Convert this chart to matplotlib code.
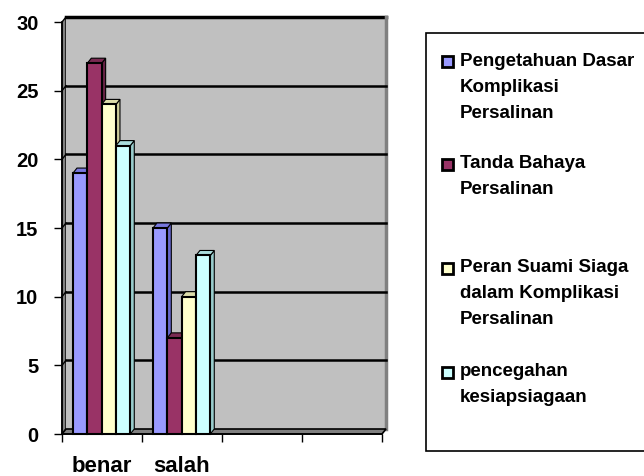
import matplotlib.pyplot as plt
from matplotlib.patches import Polygon, Rectangle
import numpy as np

plt.rcParams['font.family'] = ['Liberation Sans', 'DejaVu Sans']
plt.rcParams['font.weight'] = 'bold'

# data
categories = ["benar", "salah", "", ""]
series_names = [
    "Pengetahuan Dasar\nKomplikasi\nPersalinan",
    "Tanda Bahaya\nPersalinan",
    "Peran Suami Siaga\ndalam Komplikasi\nPersalinan",
    "pencegahan\nkesiapsiagaan",
]
pengetahuan = [19, 15]
tanda_bahaya = [27, 7]
peran_suami = [24, 10]
pencegahan = [21, 13]
series = [pengetahuan, tanda_bahaya, peran_suami, pencegahan]

front_colors = ['#9999FF', '#993366', '#FFFFCC', '#CCFFFF']
side_colors = ['#6666CC', '#662244', '#CCCC99', '#99CCCC']
top_colors = ['#7777DD', '#7A2A52', '#DDDDAA', '#AADDDD']

W, H = 644, 476
fig = plt.figure(figsize=(W / 100, H / 100), dpi=100)
ax = fig.add_axes([62 / W, (H - 434) / H, 320 / W, 412 / H])

ymax = 30
ncat = len(categories)
dx = 4 / 80.0          # depth in x units
dy = 5 * ymax / 412.0  # depth in y units

ax.set_xlim(0, ncat)
ax.set_ylim(0, ymax)

# walls
ax.add_patch(Polygon([(0, 0), (dx, dy), (dx, ymax + dy), (0, ymax)],
                     closed=True, fc='#808080', ec='black', lw=1, clip_on=False, zorder=1))
ax.add_patch(Rectangle((dx, dy), ncat, ymax, fc='#C0C0C0', ec='none', clip_on=False, zorder=1))
ax.plot([dx, ncat + dx], [ymax + dy, ymax + dy], color='black', lw=2.5, clip_on=False, zorder=2)
ax.plot([ncat + dx, ncat + dx], [dy, ymax + dy], color='#808080', lw=2.5, clip_on=False, zorder=2)
ax.add_patch(Polygon([(0, 0), (ncat, 0), (ncat + dx, dy), (dx, dy)],
                     closed=True, fc='#808080', ec='black', lw=1.2, clip_on=False, zorder=2))

# gridlines
for v in range(5, ymax, 5):
    ax.plot([dx, ncat + dx], [v + dy, v + dy], color='black', lw=1.8, clip_on=False, zorder=2)
    ax.plot([0, dx], [v, v + dy], color='black', lw=1, clip_on=False, zorder=2)

# 3D bars
bw = 0.179
start = 0.1375
for ci in range(len(pengetahuan)):
    for si, vals in enumerate(series):
        v = vals[ci]
        x = ci + start + si * bw
        ax.add_patch(Polygon([(x + bw, 0), (x + bw + dx, dy), (x + bw + dx, v + dy), (x + bw, v)],
                             closed=True, fc=side_colors[si], ec='black', lw=0.8,
                             clip_on=False, zorder=3 + si))
        ax.add_patch(Polygon([(x, v), (x + dx, v + dy), (x + bw + dx, v + dy), (x + bw, v)],
                             closed=True, fc=top_colors[si], ec='black', lw=0.8,
                             clip_on=False, zorder=3 + si))
        ax.add_patch(Rectangle((x, 0), bw, v, fc=front_colors[si], ec='black', lw=1.5,
                               clip_on=False, zorder=3 + si))

# axes
for s in ['top', 'right']:
    ax.spines[s].set_visible(False)
for s in ['left', 'bottom']:
    ax.spines[s].set_color('black')
    ax.spines[s].set_linewidth(1.2)
    ax.spines[s].set_zorder(10)
ax.set_facecolor('none')

ax.set_yticks(np.arange(0, ymax + 1, 5))
ax.tick_params(axis='y', length=6, width=1, pad=11, labelsize=14.5)
ax.set_xticks(np.arange(0, ncat + 1))
ax.set_xticklabels([])
ax.tick_params(axis='x', which='major', length=6, width=1)
ax.set_xticks(np.arange(ncat) + 0.5, minor=True)
ax.set_xticklabels(categories, minor=True, fontsize=16, fontweight='bold')
ax.tick_params(axis='x', which='minor', length=0, pad=16)
for lab in ax.get_yticklabels():
    lab.set_fontweight('bold')

# legend
fig.patches.append(Rectangle((426 / W, 1 - 451 / H), (W + 10 - 426) / W, (451 - 33) / H,
                             transform=fig.transFigure, fc='white', ec='black', lw=1.2))
entry_y = [61, 164, 268, 372]
line_step = 26
for si, name in enumerate(series_names):
    y0 = entry_y[si]
    fig.patches.append(Rectangle((442 / W, 1 - (y0 + 6) / H), 11 / W, 11 / H,
                                 transform=fig.transFigure, fc=front_colors[si],
                                 ec='black', lw=2))
    for li, line in enumerate(name.split("\n")):
        fig.text(460 / W, 1 - (y0 + li * line_step) / H, line, fontsize=13.5,
                 fontweight='bold', va='center', ha='left')

fig.savefig('out.png', dpi=100)
